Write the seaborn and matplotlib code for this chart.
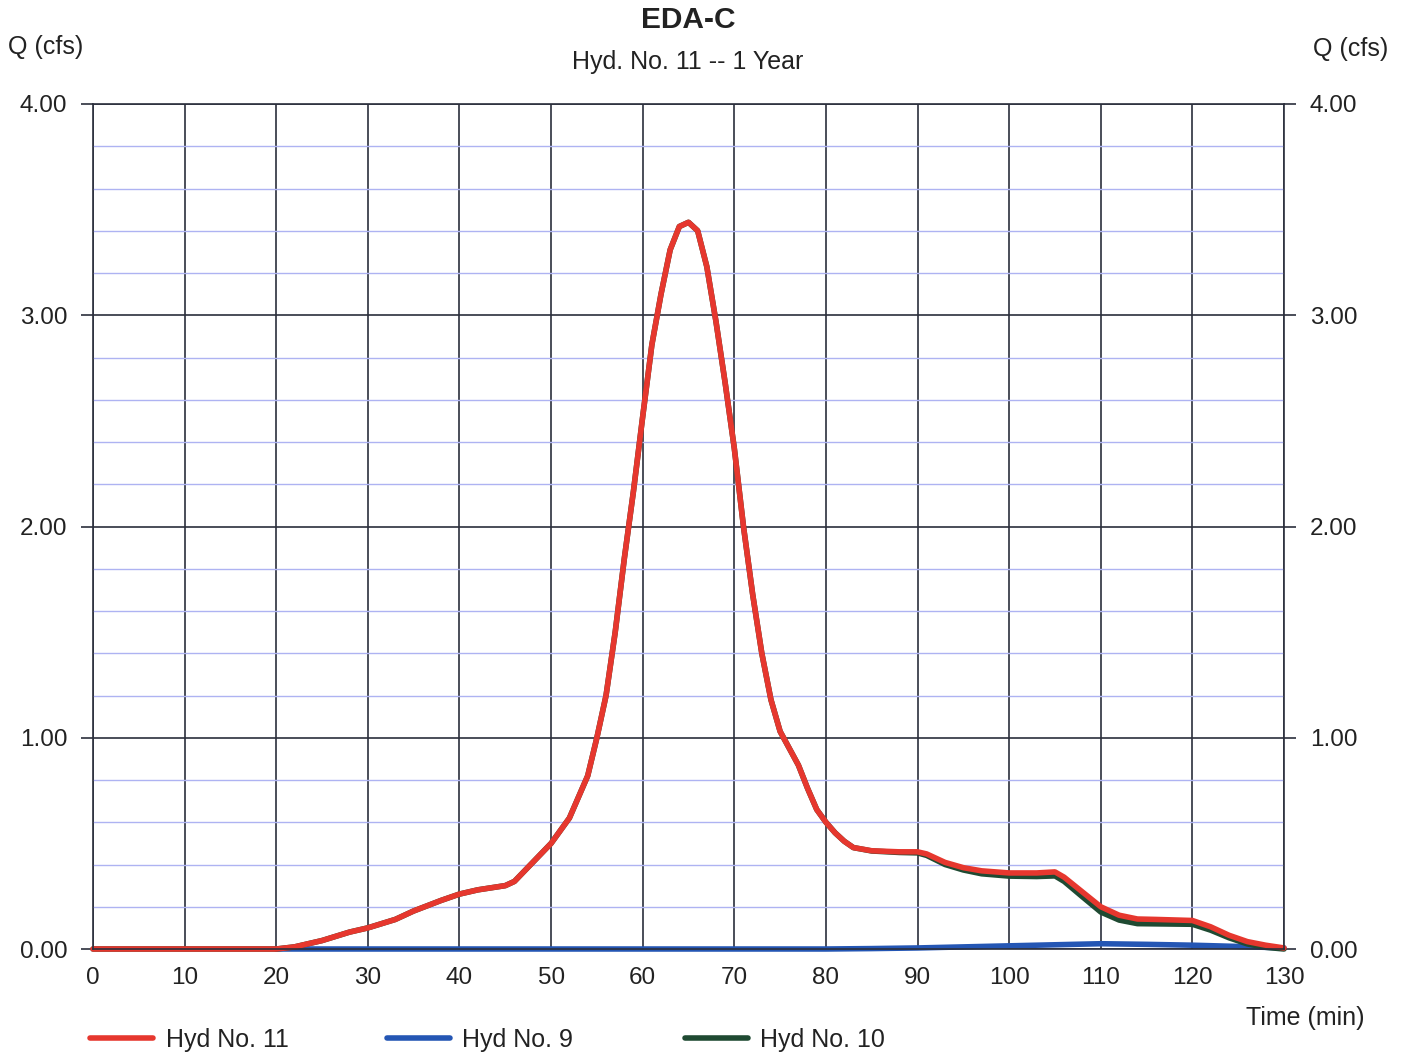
import matplotlib
matplotlib.use("Agg")
import matplotlib.pyplot as plt
from matplotlib.ticker import MultipleLocator, FixedLocator
from matplotlib.lines import Line2D
import seaborn as sns
import pandas as pd

# ---- data ----
t11 = [0, 10, 20, 22, 25, 28, 30, 33, 35, 38, 40, 42, 45, 46, 48, 50, 52, 54, 55, 56,
       57, 58, 59, 60, 61, 62, 63, 64, 65, 66, 67, 68, 69, 70, 71, 72, 73, 74, 75, 76,
       77, 78, 79, 80, 81, 82, 83, 85, 88, 90, 91, 93, 95, 97, 100, 103, 105, 106, 108,
       110, 112, 114, 116, 120, 121, 122, 124, 126, 128, 130]
q11 = [0, 0, 0, 0.01, 0.04, 0.08, 0.10, 0.14, 0.18, 0.23, 0.26, 0.28, 0.30, 0.32, 0.41,
       0.50, 0.62, 0.82, 1.00, 1.20, 1.50, 1.85, 2.17, 2.52, 2.86, 3.10, 3.31, 3.42, 3.44,
       3.40, 3.23, 2.97, 2.68, 2.37, 2.00, 1.68, 1.40, 1.18, 1.03, 0.95, 0.87, 0.76, 0.66,
       0.60, 0.55, 0.51, 0.48, 0.465, 0.46, 0.46, 0.45, 0.41, 0.385, 0.37, 0.36, 0.36,
       0.365, 0.34, 0.27, 0.20, 0.16, 0.142, 0.14, 0.135, 0.12, 0.105, 0.065, 0.035, 0.018,
       0.005]

t9 = [20, 40, 60, 80, 85, 90, 95, 100, 105, 110, 115, 120, 125, 130]
q9 = [0, 0, 0, 0, 0.002, 0.005, 0.01, 0.015, 0.02, 0.025, 0.022, 0.018, 0.012, 0.005]

t10 = [0, 10, 20, 22, 25, 28, 30, 33, 35, 38, 40, 42, 45, 46, 48, 50, 52, 54, 55, 56,
       57, 58, 59, 60, 61, 62, 63, 64, 65, 66, 67, 68, 69, 70, 71, 72, 73, 74, 75, 76,
       77, 78, 79, 80, 81, 82, 83, 85, 88, 90, 91, 93, 95, 97, 100, 103, 105, 106, 108,
       110, 112, 114, 116, 120, 121, 122, 124, 126, 128, 130]
q10 = [0, 0, 0, 0.01, 0.04, 0.08, 0.10, 0.14, 0.18, 0.23, 0.26, 0.28, 0.30, 0.32, 0.41,
       0.50, 0.62, 0.82, 1.00, 1.20, 1.50, 1.85, 2.17, 2.52, 2.86, 3.10, 3.31, 3.42, 3.44,
       3.40, 3.23, 2.97, 2.68, 2.37, 2.00, 1.68, 1.40, 1.18, 1.03, 0.95, 0.87, 0.76, 0.66,
       0.60, 0.55, 0.51, 0.48, 0.464, 0.457, 0.455, 0.443, 0.40, 0.374, 0.356, 0.345, 0.343,
       0.346, 0.32, 0.247, 0.175, 0.137, 0.12, 0.119, 0.117, 0.103, 0.089, 0.053, 0.024,
       0.008, 0.0]

x_ticks = list(range(0, 131, 10))
y_ticks = [0, 1, 2, 3, 4]
y_tick_labels = ["0.00", "1.00", "2.00", "3.00", "4.00"]

names = ["Hyd No. 11", "Hyd No. 9", "Hyd No. 10"]
colors = {"Hyd No. 11": "#e6372e", "Hyd No. 9": "#2456b4", "Hyd No. 10": "#1f4a32"}

df = pd.concat([
    pd.DataFrame({"t": t9, "q": q9, "s": "Hyd No. 9"}),
    pd.DataFrame({"t": t10, "q": q10, "s": "Hyd No. 10"}),
    pd.DataFrame({"t": t11, "q": q11, "s": "Hyd No. 11"}),
], ignore_index=True)

sns.set_theme(style="white")
plt.rcParams["font.family"] = ["Liberation Sans", "DejaVu Sans"]

fig = plt.figure(figsize=(14.06, 10.56), dpi=100)
ax = fig.add_axes([93 / 1406, 1 - 949 / 1056, (1284 - 93) / 1406, (949 - 104) / 1056])

sns.lineplot(data=df, x="t", y="q", hue="s", hue_order=["Hyd No. 9", "Hyd No. 10", "Hyd No. 11"],
             palette=colors, linewidth=4.0, estimator=None, sort=True, legend=False, ax=ax,
             solid_capstyle="round", solid_joinstyle="round")
for ln in ax.get_lines():
    ln.set_clip_on(False)

ax.set_xlim(0, 130)
ax.set_ylim(0, 4)
ax.xaxis.set_major_locator(FixedLocator(x_ticks))
ax.yaxis.set_major_locator(FixedLocator(y_ticks))
ax.set_yticklabels(y_tick_labels)
ax.yaxis.set_minor_locator(MultipleLocator(0.2))
ax.grid(True, which="major", color="#2b2f3c", linewidth=1.2, zorder=0)
ax.grid(True, which="minor", axis="y", color="#aeb3f2", linewidth=1.0, zorder=0)
ax.set_axisbelow(True)
for sp in ax.spines.values():
    sp.set_color("#2b2f3c")
    sp.set_linewidth(1.2)

TXT = "#222222"
ax.tick_params(axis="y", which="major", left=True, right=True, labelleft=True, labelright=True,
               length=8.5, width=1.2, color="#2b2f3c", pad=10, labelsize=17.5, labelcolor=TXT)
ax.tick_params(axis="y", which="minor", length=0)
ax.tick_params(axis="x", which="major", length=0, pad=13, labelsize=17.5, labelcolor=TXT)
ax.set_xlabel("")
ax.set_ylabel("")

fig.text(688 / 1406, 1 - 20 / 1056, "EDA-C", ha="center", va="center", fontsize=21.5,
         fontweight="bold", color=TXT)
fig.text(688 / 1406, 1 - 62 / 1056, "Hyd. No. 11 -- 1 Year", ha="center", va="center",
         fontsize=18, color=TXT)
fig.text(8 / 1406, 1 - 47 / 1056, "Q (cfs)", ha="left", va="center", fontsize=18, color=TXT)
fig.text(1388 / 1406, 1 - 49 / 1056, "Q (cfs)", ha="right", va="center", fontsize=18, color=TXT)
fig.text(1365 / 1406, 1 - 1018 / 1056, "Time (min)", ha="right", va="center", fontsize=18,
         color=TXT)

legend_x = {"Hyd No. 11": 90, "Hyd No. 9": 387, "Hyd No. 10": 685}
for n in names:
    h = Line2D([0], [0], color=colors[n], linewidth=4.0)
    fig.legend([h], [n], loc="center left", bbox_to_anchor=(legend_x[n] / 1406, 1 - 1040 / 1056),
               frameon=False, handlelength=2.5, handletextpad=0.52, borderpad=0,
               borderaxespad=0, fontsize=18, labelcolor=TXT)

fig.savefig("out.png", dpi=100, facecolor="white")
